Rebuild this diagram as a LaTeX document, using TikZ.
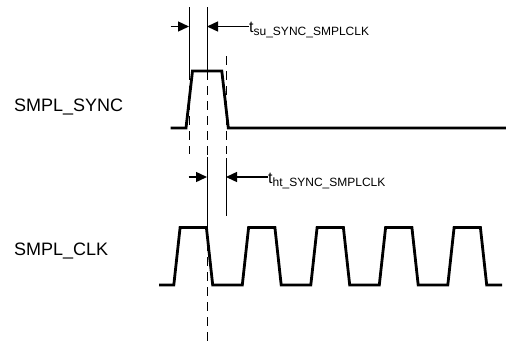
\documentclass[tikz,border=0pt]{standalone}
\usepackage{fontspec}
\setmainfont{Liberation Sans}
\usetikzlibrary{arrows.meta}
\begin{document}
\begin{tikzpicture}[x=1pt,y=-1pt,
  sig/.style={line width=2.8pt, line join=miter},
  guide/.style={line width=1pt},
  guidedash/.style={line width=1pt, dash pattern=on 9pt off 6pt},
  dimarrow/.style={line width=1.4pt, -{Triangle[length=11pt,width=10pt]}},
  lbl/.style={font=\fontsize{18}{21}\selectfont, anchor=base west, inner sep=0pt},
  tlbl/.style={font=\fontsize{16}{18}\selectfont, anchor=base west, inner sep=0pt},
  sublbl/.style={}]
\useasboundingbox (0,0) rectangle (506,346);

% labels
\node[lbl] (synclbl) at (14,111) {SMPL\_SYNC};
\node[lbl] (clklbl) at (14,255) {SMPL\_CLK};
\node[tlbl] (tsu) at (249,32.5) {t\raisebox{-2.5pt}{\fontsize{12}{14}\selectfont su\_SYNC\_SMPLCLK}};
\node[tlbl] (tht) at (268,183.5) {t\raisebox{-2.5pt}{\fontsize{12}{14}\selectfont ht\_SYNC\_SMPLCLK}};

% guide lines
\draw[guide] (189,7) -- (189,71);
\draw[guidedash] (189,71) -- (189,154);
\draw[guide] (207,7) -- (207,71);
\draw[guidedash] (207,71) -- (207,157);
\draw[guide] (207,157) -- (207,227);
\draw[guidedash] (207,227) -- (207,346);
\draw[guidedash] (226,56) -- (226,154);
\draw[guide] (226,158) -- (226,216);

% dimension arrows
\coordinate (sua) at (170.5,26.5);
\coordinate (sub) at (189,26.5);
\coordinate (suc) at (207,26.5);
\coordinate (sud) at (249,26.5);
\draw[dimarrow] (sua) -- (sub);
\draw[dimarrow] (sud) -- (suc);
\coordinate (hta) at (188.5,177);
\coordinate (htb) at (207,177);
\coordinate (htc) at (226,177);
\coordinate (htd) at (268,177);
\draw[dimarrow] (hta) -- (htb);
\draw[dimarrow] (htd) -- (htc);

% SMPL_SYNC waveform
\draw[sig] (170.5,128) -- (186,128) -- (192.5,71) -- (221.8,71) -- (228.3,128) -- (506,128);

% SMPL_CLK waveform
\draw[sig] (159,285) -- (173.8,285)
  \foreach \k in {0,...,3}{
    -- ++(6.3,-57.5) -- ++(26.3,0) -- ++(6.3,57.5) -- ++(29.6,0)
  }
  -- ++(6.3,-57.5) -- ++(26.3,0) -- ++(6.3,57.5) -- (502,285);
\end{tikzpicture}
\end{document}
